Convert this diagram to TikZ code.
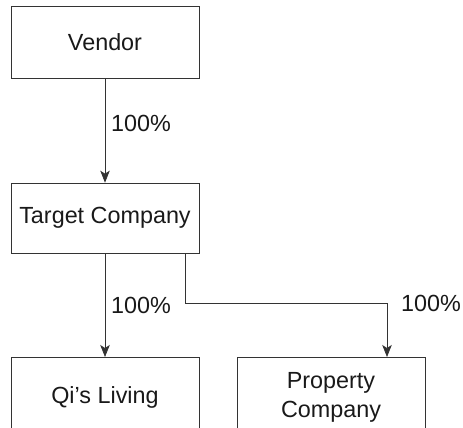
\documentclass[tikz,border=0pt]{standalone}
\usepackage{fontspec}
\setmainfont{Liberation Sans}
\usetikzlibrary{arrows.meta}
\colorlet{linecol}{black!80}
\tikzset{x=0.02cm,y=-0.02cm,
        >={Stealth[length=0.24cm,width=0.19cm,inset=0.06cm]},
        line width=0.8pt,
        link/.style={->,draw=linecol},
        box/.style={draw=linecol,rectangle,inner sep=0pt,minimum width=3.76cm,font=\fontsize{13.3}{16}\selectfont,align=center,text=black!90},
        pct/.style={font=\fontsize{13.3}{16}\selectfont,text=black!90}
        }
\begin{document}
\begin{tikzpicture}
    % 画布大小,下方两个方框被裁掉一部分
    \clip (0,0) rectangle (463,427);
    % 三层方框
    \node[box,minimum height=1.44cm] (vendor) at (105,42) {Vendor};
    \node[box,minimum height=1.4cm] (target) at (105,218) {Target Company};
    \node[box,minimum height=1.6cm,anchor=north] (qi) at (105,357) {Qi’s Living};
    \node[box,minimum height=1.6cm,anchor=north] (prop) at (331,357) {Property\\Company};
    % Vendor 到 Target Company
    \draw[link] (vendor) -- node[pct,right,pos=0.43] {100\%} (target);
    % Target Company 到 Qi's Living
    \draw[link] (target) -- node[pct,right] {100\%} (qi);
    % 折线到 Property Company,拐点记为 fork
    \coordinate (fork) at (185,303);
    \coordinate (drop) at (387,357);
    \draw[link] (target.south -| fork) -- (fork) -| node[pct,pos=0.5,right,xshift=0.16cm] {100\%} (drop);
\end{tikzpicture}
\end{document}
